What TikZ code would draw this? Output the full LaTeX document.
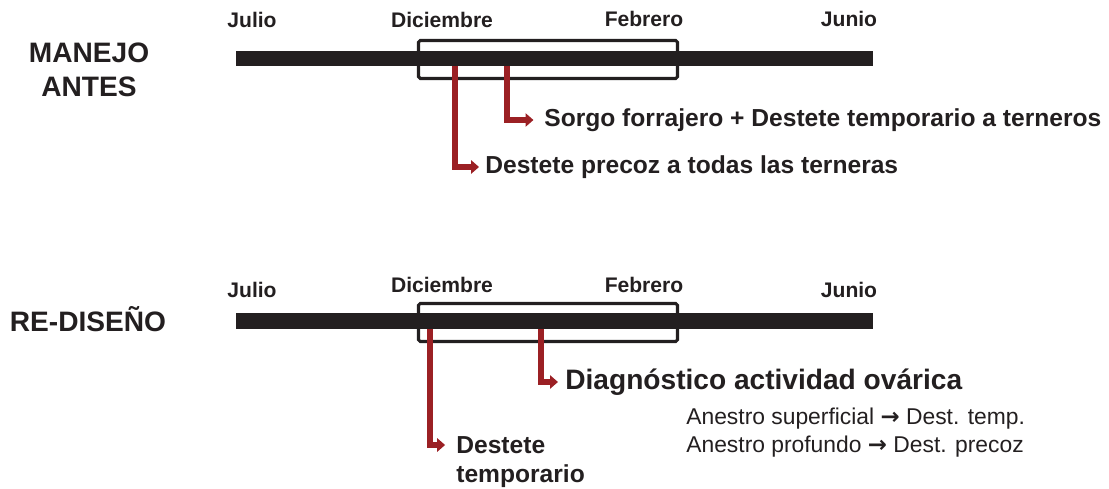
\documentclass[tikz,border=0pt]{standalone}
\usepackage{fontspec}
\setmainfont{Liberation Sans}
\newfontfamily\arrowfont{DejaVu Sans}
\usepackage{tikz}
\usetikzlibrary{arrows.meta}
\definecolor{barblack}{RGB}{35,31,32}
\definecolor{arrred}{RGB}{155,32,36}
\newcommand{\toarrow}{{\arrowfont\bfseries →}}

\begin{document}
\begin{tikzpicture}[x=0.02cm, y=-0.02cm,
    month/.style={font=\fontsize{12}{14}\selectfont\bfseries, text=barblack, inner sep=0pt, anchor=base},
    title/.style={font=\fontsize{16}{19}\selectfont\bfseries, text=barblack, inner sep=0pt, anchor=base},
    lbl/.style={font=\fontsize{14}{16}\selectfont\bfseries, text=barblack, inner sep=0pt, anchor=west},
    note/.style={font=\fontsize{13}{15}\selectfont, text=barblack, inner sep=0pt, anchor=base west},
    redarr/.style={draw=arrred, line width=3pt, -{Triangle[length=4.5pt,width=7.5pt]}, shorten >=#1}]
            \useasboundingbox (0,0) rectangle (1109,489);

            % manejo antes
            \draw (89,63) node[title]                    (manejo) {MANEJO};
            \draw (89,97) node[title]                    (antes) {ANTES};
            \draw (252,28) node[month]                   (julA) {Julio};
            \draw (442,28) node[month]                   (dicA) {Diciembre};
            \draw (644,27) node[month]                   (febA) {Febrero};
            \draw (849,27) node[month]                   (junA) {Junio};
            \fill[barblack] (236,51) rectangle (873,66);
            \draw[barblack, line width=1.8pt, rounded corners=1pt] (418.5,40.5) rectangle (677.5,78.5);
            \coordinate (pA1) at (455,66);
            \coordinate (pA2) at (507,66);
            \draw (485,167) node[lbl]                    (precoz) {Destete precoz a todas las terneras};
            \draw (544,120) node[lbl]                    (sorgo) {Sorgo forrajero + Destete temporario a terneros};
            \draw[redarr=3.4pt] (pA1) |- (precoz.west);
            \draw[redarr=6pt] (pA2) |- (sorgo.west);

            % re-diseno
            \draw (88,332) node[title]                   (rediseno) {RE-DISEÑO};
            \draw (252,298) node[month]                  (julB) {Julio};
            \draw (442,293) node[month]                  (dicB) {Diciembre};
            \draw (644,293) node[month]                  (febB) {Febrero};
            \draw (849,298) node[month]                  (junB) {Junio};
            \fill[barblack] (236,313) rectangle (873,329);
            \draw[barblack, line width=1.8pt, rounded corners=1pt] (418.5,303.5) rectangle (677.5,341.5);
            \coordinate (pB1) at (430,329);
            \coordinate (pB2) at (541,329);
            \draw (565,382) node[lbl, font=\fontsize{16}{19}\selectfont\bfseries] (diag) {Diagnóstico actividad ovárica};
            \draw (686,425) node[note]                   (anesSup) {Anestro superficial \toarrow{} Dest. temp.};
            \draw (686,453) node[note]                   (anesPro) {Anestro profundo \toarrow{} Dest. precoz};
            \draw (456,445) node[lbl]                    (destete) {Destete};
            \draw (456,482) node[lbl, anchor=base west]  (temporario) {temporario};
            \draw[redarr=6.2pt] (pB1) |- (destete.west);
            \draw[redarr=4pt] (pB2) |- (diag.west);

\end{tikzpicture}
\end{document}
